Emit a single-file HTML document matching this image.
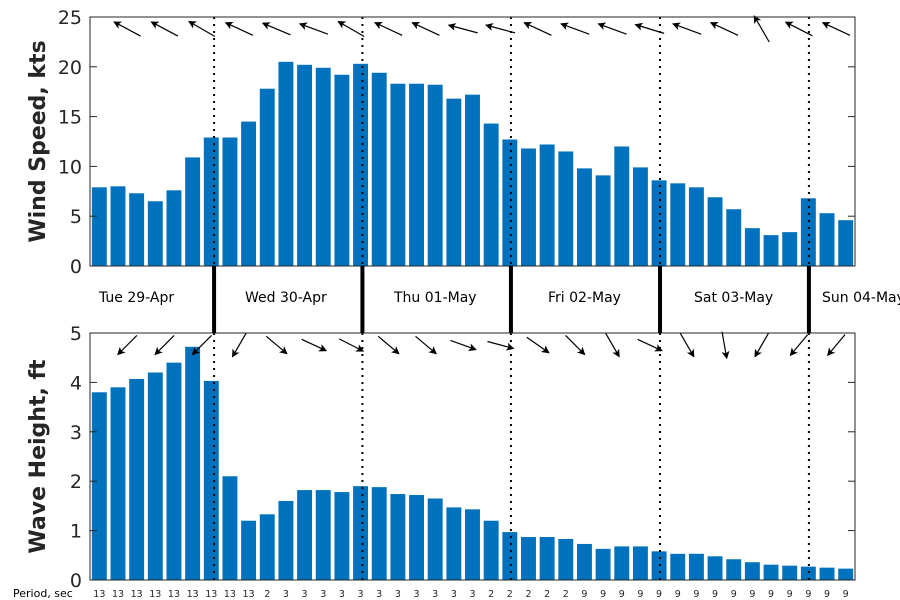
<!DOCTYPE html>
<html><head><meta charset="utf-8"><style>
body{margin:0;background:#fff}
svg{display:block;font-family:"DejaVu Sans","Liberation Sans",sans-serif}
</style></head><body>
<svg id="c" width="900" height="600" viewBox="0 0 900 600"></svg>
<script>
const wind = [7.9,8.0,7.3,6.5,7.6,10.9,12.9, 12.9,14.5,17.8,20.5,20.2,19.9,19.2,20.3, 19.4,18.3,18.3,18.2,16.8,17.2,14.3,12.7, 11.8,12.2,11.5,9.8,9.1,12.0,9.9,8.6, 8.3,7.9,6.9,5.7,3.8,3.1,3.4,6.8, 5.3,4.6];
const wave = [3.8,3.9,4.07,4.2,4.4,4.72,4.03, 2.1,1.2,1.33,1.6,1.82,1.82,1.78,1.9, 1.88,1.74,1.72,1.65,1.47,1.43,1.2,0.97, 0.87,0.87,0.83,0.73,0.63,0.68,0.68,0.58, 0.53,0.53,0.48,0.42,0.36,0.31,0.29,0.27, 0.25,0.23];
const periods = [13,13,13,13,13,13,13,13,13,2,3,3,3,3,3,3,3,3,3,3,3,2,2,2,2,2,9,9,9,9,9,9,9,9,9,9,9,9,9,9,9];
const windDir = [152,152,150,155,157,160,150,155,155,165,165,155,160,160,163,160,155,120,153,155];
const waveDir = [225,225,225,240,320,335,333,320,320,340,345,325,315,300,335,300,280,240,230,230];
const dayLabels = ["Tue 29-Apr","Wed 30-Apr","Thu 01-May","Fri 02-May","Sat 03-May","Sun 04-May"];
const dayLabelX = [99,245,394,548,694,822];
const dayBreaks = [6.65,14.6,22.56,30.55,38.53];
const windTicks = [0,5,10,15,20,25];
const waveTicks = [0,1,2,3,4,5];

const NS="http://www.w3.org/2000/svg", svg=document.getElementById('c');
function el(t,a,p){const e=document.createElementNS(NS,t);for(const k in a)e.setAttribute(k,a[k]);(p||svg).appendChild(e);return e;}
const X0=90,X1=855,N=41;
const x=i=>X0+(X1-X0)*i/N;
const panels=[{top:17,bot:266,max:25,data:wind,ticks:windTicks,dir:windDir,len:30,label:"Wind Speed, kts",nm:"wind"},
              {top:333,bot:580,max:5,data:wave,ticks:waveTicks,dir:waveDir,len:27,label:"Wave Height, ft",nm:"wave"}];
const defs=el('defs',{});
const mk=el('marker',{id:'ah',markerWidth:'8',markerHeight:'8',refX:'7',refY:'4',orient:'auto',markerUnits:'userSpaceOnUse'},defs);
el('path',{d:'M0,0 L8,4 L0,8 L2,4 Z',fill:'#000'},mk);
panels.forEach(p=>{
  const y=v=>p.bot-(p.bot-p.top)*v/p.max;
  const g=el('g',{});
  
  
  el('rect',{x:X0,y:p.top,width:X1-X0,height:p.bot-p.top,fill:'#fff'},g);
  p.data.forEach((v,i)=>{
    const r=el('rect',{x:x(i+0.1),y:y(v),width:x(0.8)-X0,height:p.bot-y(v),fill:'#0072BD'},g);
    
    
  });
  dayBreaks.forEach(b=>{
    const l=el('line',{x1:x(b),x2:x(b),y1:p.top,y2:p.bot,stroke:'#000','stroke-width':2,'stroke-dasharray':'2,5'},g);
    
    
  });
  p.dir.forEach((d,k)=>{
    const cx=x(2*k+2),cy=p.top+12,a=d*Math.PI/180,dx=Math.cos(a)*p.len/2,dy=-Math.sin(a)*p.len/2;
    const l=el('line',{x1:cx-dx,y1:cy-dy,x2:cx+dx,y2:cy+dy,stroke:'#000','stroke-width':1.2,'marker-end':'url(#ah)'},g);
    
    
  });
  el('rect',{x:X0,y:p.top,width:X1-X0,height:p.bot-p.top,fill:'none',stroke:'#262626','stroke-width':1},g);
  p.ticks.forEach(t=>{
    el('line',{x1:X0,x2:X0+7,y1:y(t),y2:y(t),stroke:'#262626'},g);
    el('line',{x1:X1-7,x2:X1,y1:y(t),y2:y(t),stroke:'#262626'},g);
    const tx=el('text',{x:X0-8,y:y(t)+7,'text-anchor':'end','font-size':19,fill:'#262626'},g);
    tx.textContent=t;
    
    
  });
  const yl=el('text',{x:0,y:0,transform:`translate(45,${(p.top+p.bot)/2}) rotate(-90)`,'text-anchor':'middle','font-size':22,'font-weight':'bold',fill:'#262626'},g);
  yl.textContent=p.label;
  
  
});
dayBreaks.forEach(b=>{
  const l=el('line',{x1:x(b),x2:x(b),y1:266,y2:333,stroke:'#000','stroke-width':4});
  
  
});
dayLabels.forEach((d,k)=>{
  const t=el('text',{x:dayLabelX[k],y:302,'font-size':14,fill:'#000'});
  t.textContent=d;
  
  
});
periods.forEach((v,i)=>{
  const t=el('text',{x:x(i+0.5),y:597,'text-anchor':'middle','font-size':9.5,fill:'#262626'});
  t.textContent=v;
  
  
});
const pl=el('text',{x:13,y:597,'font-size':11,fill:'#000'});
pl.textContent="Period, sec";


</script>
</body></html>
